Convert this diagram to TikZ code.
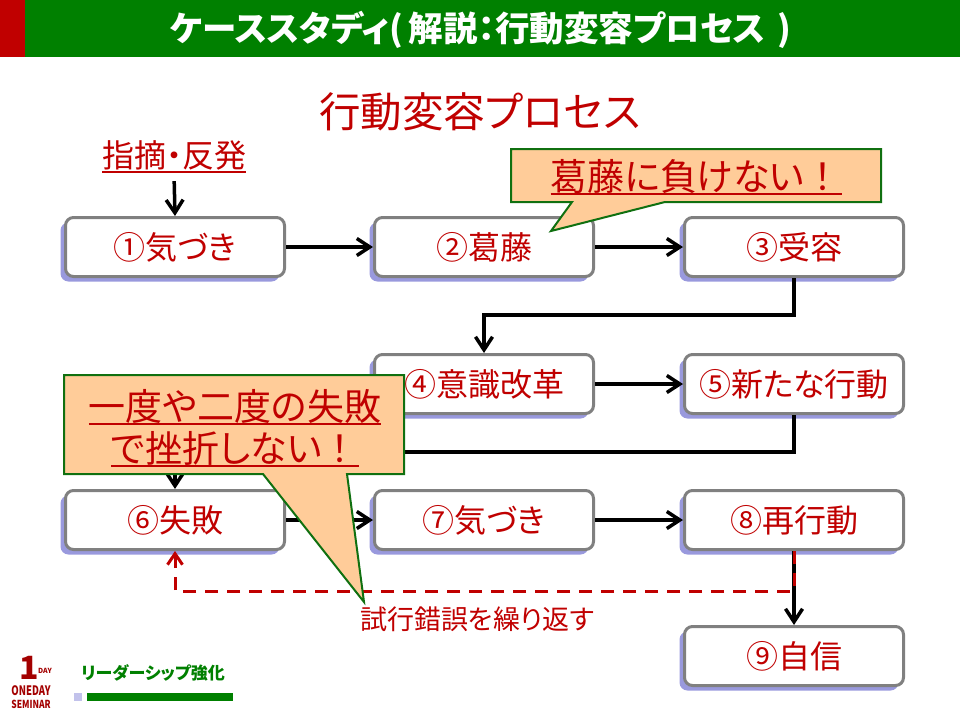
\documentclass[tikz,border=0pt]{standalone}
\usepackage{fontspec}
\setmainfont[RawFeature=+palt]{Noto Sans CJK JP}
\newfontfamily\fwfont{Noto Sans CJK JP}
\usetikzlibrary{arrows.meta,shadows}
\definecolor{tred}{HTML}{C00000}
\definecolor{hgreen}{HTML}{008000}
\definecolor{cgreen}{HTML}{107010}
\definecolor{cfill}{HTML}{FFCC99}
\definecolor{shblue}{HTML}{9999DD}
\definecolor{bgray}{HTML}{808080}
\newcommand{\fsz}[1]{\fontsize{#1}{#1}\selectfont}
\newcommand{\ulb}[1]{\leavevmode\setbox0=\hbox{#1}\rlap{\raisebox{-5pt}{\rule{\wd0}{2pt}}}\box0 }
\tikzset{
  pbox/.style={draw=bgray,line width=3pt,fill=white,rounded corners=8pt,minimum width=219pt,minimum height=59pt,inner sep=0pt,text=tred,font=\fsz{32},drop shadow={shadow xshift=-5pt,shadow yshift=-5pt,fill=shblue,opacity=1}},
  conn/.style={line width=3.5pt,draw=black,-{Straight Barb[length=13pt,width=17pt,line width=3.5pt]}},
  retry/.style={line width=3pt,draw=tred,dash pattern=on 13pt off 9pt,-{Straight Barb[length=11pt,width=15pt,line width=3pt]}},
  callout/.style={draw=cgreen,line width=2pt,fill=cfill,line join=miter},
  ctext/.style={text=tred,inner sep=0pt,font=\fsz{37}},
  logotext/.style={text=tred!85!black,inner sep=0pt},
}
\begin{document}
\begin{tikzpicture}[x=1pt,y=-1pt]
\useasboundingbox (0,0) rectangle (960,720);
% header
\fill[fill=tred] (0,0) rectangle (25,57);
\fill[fill=hgreen] (25,0) rectangle (960,57);
\node[text=white,inner sep=0pt,font=\fsz{34.5}\bfseries] (title) at (481,30) {ケーススタディ(\hspace{6pt}解説：行動変容プロセス\hspace{12pt})};
\node[text=tred,inner sep=0pt,font=\fsz{41.5}] (sub) at (480,112) {行動変容プロセス};
\node[text=tred,inner sep=0pt,font=\fsz{32}] (src) at (174,157) {\ulb{指摘・反発}};
% boxes
\node[pbox] (n1) at (175,247) {①気づき};
\node[pbox] (n2) at (484,247) {②葛藤};
\node[pbox] (n3) at (794,247) {③受容};
\node[pbox] (n4) at (484,384) {④意識改革};
\node[pbox] (n5) at (794,384) {⑤新たな行動};
\node[pbox] (n6) at (175,520) {⑥失敗};
\node[pbox] (n7) at (484,520) {⑦気づき};
\node[pbox] (n8) at (794,520) {⑧再行動};
\node[pbox] (n9) at (794,656) {⑨自信};
% connectors
\coordinate (b34) at (794,315);
\coordinate (b56) at (794,452);
\coordinate (b89) at (794,591);
\draw[conn,shorten <=8pt] (src.south) -- (n1.north);
\draw[conn] (n1) -- (n2);
\draw[conn] (n2) -- (n3);
\draw[conn] (n4) -- (n5);
\draw[conn] (n6) -- (n7);
\draw[conn] (n7) -- (n8);
\draw[conn] (n8) -- (n9);
\draw[conn] (n3.south) -- (b34) -| (n4.north);
\draw[conn] (n5.south) -- (b56) -| (n6.north);
\draw[retry] (n8.south) -- (b89) -| (n6.south);
\node[text=tred,inner sep=0pt,font=\fsz{27}] (lab) at (477,619) {試行錯誤を繰り返す};
% callouts
\draw[callout] (511,149) -- (881,149) -- (881,202) -- (665,202) -- (551,231) -- (572,202) -- (511,202) -- cycle;
\node[ctext] (c1) at (696,177) {\ulb{葛藤に負けない{\fwfont ！}}};
\draw[callout] (64,375) -- (404,375) -- (404,474) -- (347,474) -- (364,602) -- (263,474) -- (64,474) -- cycle;
\node[ctext] (c2a) at (235,407) {\ulb{一度や二度の失敗}};
\node[ctext] (c2b) at (235,449) {\ulb{で挫折しない{\fwfont ！}}};
% footer
\node[text=hgreen,inner sep=0pt,font=\fsz{17}\bfseries] (foot) at (153,673) {リーダーシップ強化};
\fill[fill=shblue!60] (74,693) rectangle (82,701);
\fill[fill=hgreen] (87,693) rectangle (233,701);
\node[logotext,font=\fsz{32}\bfseries] (one) at (29,668) {1};
\node[logotext,font=\fsz{7}\bfseries] (day) at (45,671) {DAY};
\node[logotext,font=\fsz{9}\bfseries,xscale=1.05,yscale=1.45] (od) at (31,691) {ONEDAY};
\node[logotext,font=\fsz{8.5}\bfseries,xscale=1,yscale=1.3] (sm) at (31,704) {SEMINAR};
\end{tikzpicture}
\end{document}
